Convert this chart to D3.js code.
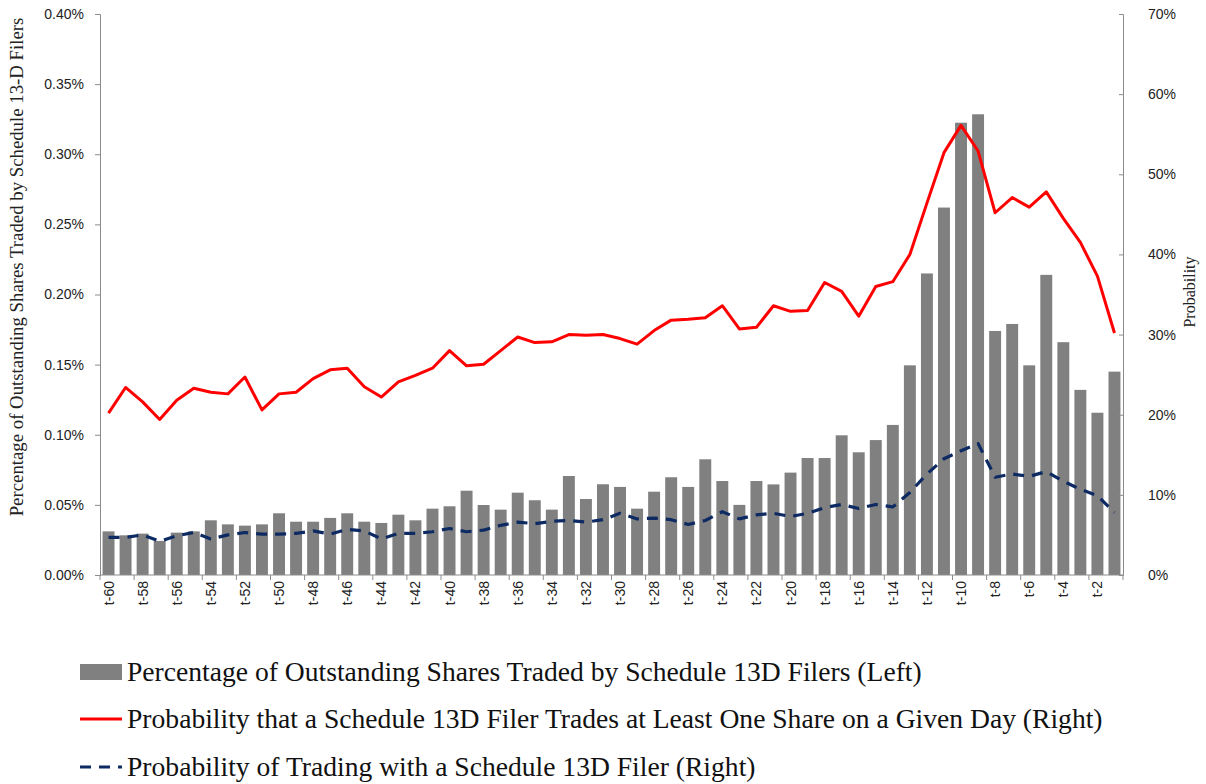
<!DOCTYPE html>
<html>
<head>
<meta charset="utf-8">
<script src="https://cdn.jsdelivr.net/npm/d3@7"></script>
<style>
  html, body { margin: 0; padding: 0; background: #fff; }
  svg { display: block; }
</style>
</head>
<body>
<svg id="chart" width="1206" height="784"></svg>
<script>
// ---- Data ----
const categories = d3.range(60, 0, -1).map(d => "t-" + d);
const sharesTraded = [ // % of outstanding shares (left axis)
  0.0311, 0.0283, 0.0295, 0.0243, 0.0302, 0.0311, 0.0390, 0.0361, 0.0352, 0.0361,
  0.0440, 0.0380, 0.0380, 0.0407, 0.0440, 0.0380, 0.0371, 0.0430, 0.0390, 0.0473,
  0.0490, 0.0601, 0.0499, 0.0466, 0.0587, 0.0533, 0.0466, 0.0706, 0.0542, 0.0647,
  0.0628, 0.0473, 0.0594, 0.0697, 0.0628, 0.0825, 0.0670, 0.0500, 0.0670, 0.0646,
  0.0730, 0.0834, 0.0834, 0.0996, 0.0875, 0.0962, 0.1070, 0.1495, 0.2150, 0.2620,
  0.3225, 0.3285, 0.1740, 0.1790, 0.1495, 0.2140, 0.1660, 0.1320, 0.1157, 0.1450
];
const probFilerTrades = [ // % (right axis)
  20.2, 23.4, 21.6, 19.4, 21.8, 23.3, 22.8, 22.6, 24.7, 20.6,
  22.6, 22.8, 24.5, 25.6, 25.8, 23.5, 22.2, 24.1, 24.9, 25.8,
  28.0, 26.1, 26.3, 28.0, 29.7, 29.0, 29.1, 30.0, 29.9, 30.0,
  29.5, 28.8, 30.5, 31.8, 31.9, 32.1, 33.6, 30.7, 30.9, 33.6,
  32.9, 33.0, 36.5, 35.4, 32.3, 36.0, 36.6, 40.0, 46.4, 52.7,
  56.1, 52.9, 45.2, 47.1, 45.9, 47.8, 44.5, 41.5, 37.3, 30.2
];
const probTradingWith = [ // % (right axis)
  4.7, 4.7, 5.0, 4.2, 4.9, 5.3, 4.5, 5.0, 5.3, 5.1,
  5.1, 5.2, 5.5, 5.1, 5.7, 5.5, 4.5, 5.2, 5.2, 5.4,
  5.8, 5.4, 5.6, 6.2, 6.6, 6.4, 6.7, 6.8, 6.6, 6.9,
  7.7, 7.0, 7.1, 6.9, 6.3, 6.8, 7.9, 7.0, 7.5, 7.7,
  7.3, 7.7, 8.4, 8.8, 8.3, 8.8, 8.5, 10.3, 12.6, 14.5,
  15.5, 16.4, 12.2, 12.6, 12.3, 12.9, 11.7, 10.7, 9.9, 7.8
];
const leftTicks = [0, 0.05, 0.10, 0.15, 0.20, 0.25, 0.30, 0.35, 0.40];
const rightTicks = [0, 10, 20, 30, 40, 50, 60, 70];
const xTickLabels = categories.filter((d, i) => i % 2 === 0);
const legendLabels = [
  "Percentage of Outstanding Shares Traded by Schedule 13D Filers (Left)",
  "Probability that a Schedule 13D Filer Trades at Least One Share on a Given Day (Right)",
  "Probability of Trading with a Schedule 13D Filer (Right)"
];
const leftTitle = "Percentage of Outstanding Shares Traded by Schedule 13-D Filers";
const rightTitle = "Probability";

// ---- Layout ----
const svg = d3.select("#chart");
const L = 100, R = 1123, T = 14, B = 575;
const axisColor = "#8c8c8c";
const tickFont = "'Liberation Sans', Arial, sans-serif";
const serif = "'Liberation Serif', 'Times New Roman', serif";

const x = d3.scaleBand().domain(categories).range([L, R]).paddingInner(0.3).paddingOuter(0.15);
const yL = d3.scaleLinear().domain([0, 0.40]).range([B, T]);
const yR = d3.scaleLinear().domain([0, 70]).range([B, T]);

// Bars
svg.append("g").selectAll("rect").data(sharesTraded).join("rect")
  .attr("x", (d, i) => x(categories[i]))
  .attr("width", x.bandwidth())
  .attr("y", d => yL(d))
  .attr("height", d => B - yL(d))
  .attr("fill", "#808080");

// Lines
const cx = i => x(categories[i]) + x.bandwidth() / 2;
const line = d3.line().x((d, i) => cx(i)).y(d => yR(d));
svg.append("path").datum(probTradingWith)
  .attr("d", line).attr("fill", "none")
  .attr("stroke", "#0d2a63").attr("stroke-width", 3.2)
  .attr("stroke-dasharray", "11,8").attr("stroke-linejoin", "round");
svg.append("path").datum(probFilerTrades)
  .attr("d", line).attr("fill", "none")
  .attr("stroke", "#ff0000").attr("stroke-width", 3).attr("stroke-linejoin", "round");

// Left axis
const gL = svg.append("g").attr("transform", `translate(${L},0)`)
  .call(d3.axisLeft(yL).tickValues(leftTicks).tickFormat(d => d.toFixed(2) + "%").tickSize(5).tickPadding(11));
// Right axis
const gR = svg.append("g").attr("transform", `translate(${R},0)`)
  .call(d3.axisRight(yR).tickValues(rightTicks).tickFormat(d => d + "%").tickSize(-4).tickPadding(25));
// Bottom axis
const xTickScale = d3.scaleLinear().domain([0, 60]).range([L, R]);
const gB = svg.append("g").attr("transform", `translate(0,${B})`);
gB.append("line").attr("x1", L).attr("x2", R).attr("stroke", axisColor);
gB.selectAll("line.tk").data(d3.range(0, 61, 2)).join("line").attr("class", "tk")
  .attr("x1", d => xTickScale(d)).attr("x2", d => xTickScale(d))
  .attr("y1", 0).attr("y2", 5).attr("stroke", axisColor);
gB.selectAll("text").data(xTickLabels).join("text")
  .attr("transform", d => `translate(${x(d) + x.bandwidth() / 2 + 5},6) rotate(-90)`)
  .attr("text-anchor", "end")
  .attr("font-family", tickFont).attr("font-size", 14).attr("fill", "#222")
  .text(d => d);

[gL, gR].forEach(g => {
  g.select(".domain").attr("stroke", axisColor);
  g.selectAll(".tick line").attr("stroke", axisColor);
  g.selectAll(".tick text").attr("font-family", tickFont).attr("font-size", 14).attr("fill", "#222");
});
gR.selectAll(".tick text").attr("text-anchor", "start");

// Axis titles
svg.append("text")
  .attr("transform", `translate(23,267) rotate(-90)`)
  .attr("text-anchor", "middle").attr("font-family", serif).attr("font-size", 18.8).attr("fill", "#222")
  .text(leftTitle);
svg.append("text")
  .attr("transform", `translate(1195,${292}) rotate(-90)`)
  .attr("text-anchor", "middle").attr("font-family", serif).attr("font-size", 16).attr("fill", "#222")
  .text(rightTitle);

// Legend
const legY = [672, 719, 767];
const lg = svg.append("g");
lg.append("rect").attr("x", 80).attr("y", legY[0] - 8).attr("width", 42).attr("height", 16).attr("fill", "#808080");
lg.append("line").attr("x1", 80).attr("x2", 122).attr("y1", legY[1]).attr("y2", legY[1])
  .attr("stroke", "#ff0000").attr("stroke-width", 3);
lg.append("line").attr("x1", 80).attr("x2", 122).attr("y1", legY[2]).attr("y2", legY[2])
  .attr("stroke", "#0d2a63").attr("stroke-width", 3.2).attr("stroke-dasharray", "11,8");
lg.selectAll("text").data(legendLabels).join("text")
  .attr("x", 127).attr("y", (d, i) => legY[i] + 9)
  .attr("font-family", serif).attr("font-size", 27.6).attr("fill", "#111")
  .text(d => d);
</script>
</body>
</html>
